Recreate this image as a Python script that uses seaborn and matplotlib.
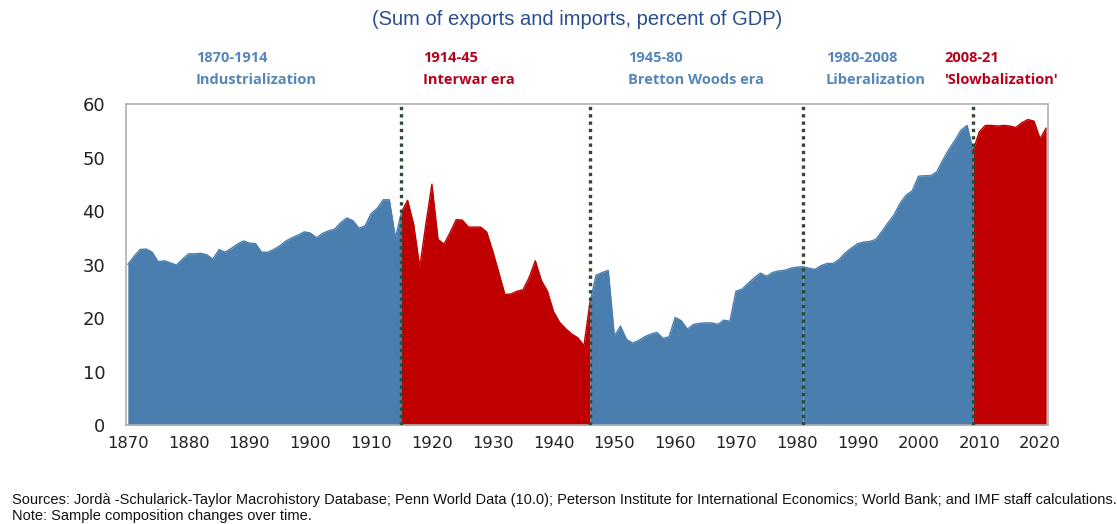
import numpy as np
import pandas as pd
import matplotlib.pyplot as plt
import seaborn as sns

# trade openness, percent of GDP, 1870-2021
years = list(range(1870, 2022))
trade_share = [
    30.0, 31.5, 32.8, 32.9, 32.3, 30.5, 30.7, 30.3, 29.9, 31.0,
    32.0, 32.0, 32.1, 31.8, 31.0, 32.8, 32.3, 33.0, 33.8, 34.4,
    34.0, 33.9, 32.3, 32.3, 32.8, 33.5, 34.4, 35.0, 35.5, 36.1,
    35.9, 35.0, 35.8, 36.3, 36.6, 37.8, 38.7, 38.2, 36.8, 37.2,
    39.5, 40.5, 42.1, 42.1, 35.0, 39.8, 42.0, 37.5, 29.5, 37.5,
    45.0, 34.7, 33.8, 36.0, 38.4, 38.3, 37.0, 37.0, 37.0, 36.1,
    32.5, 28.5, 24.4, 24.5, 25.0, 25.3, 27.6, 30.7, 27.0, 25.0,
    21.2, 19.2, 18.0, 17.0, 16.3, 14.8, 23.0, 28.0, 28.5, 28.9,
    16.6, 18.5, 16.0, 15.3, 15.8, 16.5, 17.0, 17.3, 16.2, 16.5,
    20.1, 19.5, 17.9, 18.8, 19.0, 19.1, 19.1, 18.8, 19.6, 19.4,
    25.0, 25.4, 26.5, 27.5, 28.4, 27.8, 28.5, 28.8, 28.9, 29.3,
    29.5, 29.6, 29.3, 29.1, 29.8, 30.2, 30.2, 31.0, 32.2, 33.1,
    33.9, 34.2, 34.3, 34.7, 36.2, 37.8, 39.3, 41.5, 43.0, 43.8,
    46.5, 46.6, 46.6, 47.3, 49.5, 51.5, 53.2, 55.1, 56.0, 51.3,
    54.8, 56.0, 56.0, 55.9, 56.0, 55.9, 55.6, 56.5, 57.1, 56.8,
    53.5, 55.5,
]

era_start = [1870, 1915, 1946, 1981, 2009]
era_end = [1915, 1946, 1981, 2009, 2021]
era_period = ["1870-1914", "1914-45", "1945-80", "1980-2008", "2008-21"]
era_name = ["Industrialization", "Interwar era", "Bretton Woods era",
            "Liberalization", "'Slowbalization'"]
era_red = [False, True, False, False, True]
divider_years = [1915, 1946, 1981, 2009]

BLUE = "#4a7eae"
RED = "#c00000"
LABEL_BLUE = "#5686ba"
LABEL_RED = "#b8001c"

df = pd.DataFrame({"year": years, "share": trade_share})

sns.set_style("white")
fig = plt.figure(figsize=(11.17, 5.24), dpi=100)
ax = fig.add_axes([0.1128, 0.1889, 0.8254, 0.6126])

for s, e, red in zip(era_start, era_end, era_red):
    seg = df[(df.year >= s) & (df.year <= e)]
    col = RED if red else BLUE
    ax.fill_between(seg.year, 0, seg.share, color=col, lw=0, zorder=2)
    sns.lineplot(data=seg, x="year", y="share", color=col, lw=1.0, ax=ax, zorder=3)

for yr in divider_years:
    ax.axvline(yr, color="#2f4a30", ls=(0, (1, 1.2)), lw=2.4, zorder=4)

ax.set_xlim(1869.7, 2021.3)
ax.set_ylim(0, 60)
ax.set_xticks(range(1870, 2021, 10))
ax.set_yticks(range(0, 61, 10))
ax.tick_params(axis="x", labelsize=11.8, length=0, pad=8, colors="#222222")
ax.tick_params(axis="y", labelsize=13, direction="in", length=5, color="#b8b8b8",
               pad=15, labelcolor="#222222")
ax.set_xlabel("")
ax.set_ylabel("")
for sp in ax.spines.values():
    sp.set_color("#b0b0b0")
    sp.set_linewidth(1.2)

fig.text(577 / 1117, 0.963, "(Sum of exports and imports, percent of GDP)",
         ha="center", va="center", fontsize=14.5, color="#2b4f8c",
         family="Liberation Sans")

label_x = [196, 423, 628, 826, 944]
for x, p, n, red in zip(label_x, era_period, era_name, era_red):
    col = LABEL_RED if red else LABEL_BLUE
    fig.text(x / 1117, 1 - 58 / 524, p, ha="left", va="center", fontsize=10.5,
             fontweight="bold", color=col, family="Open Sans")
    fig.text(x / 1117, 1 - 80 / 524, n, ha="left", va="center", fontsize=10.5,
             fontweight="bold", color=col, family="Open Sans")

fig.text(12 / 1117, 1 - 500 / 524,
         "Sources: Jordà -Schularick-Taylor Macrohistory Database; Penn World Data (10.0); "
         "Peterson Institute for International Economics; World Bank; and IMF staff calculations.",
         ha="left", va="center", fontsize=10.55, color="#111111",
         family="Liberation Sans")
fig.text(12 / 1117, 1 - 516 / 524, "Note: Sample composition changes over time.",
         ha="left", va="center", fontsize=10.55, color="#111111",
         family="Liberation Sans")

fig.savefig("out.png", dpi=100)
